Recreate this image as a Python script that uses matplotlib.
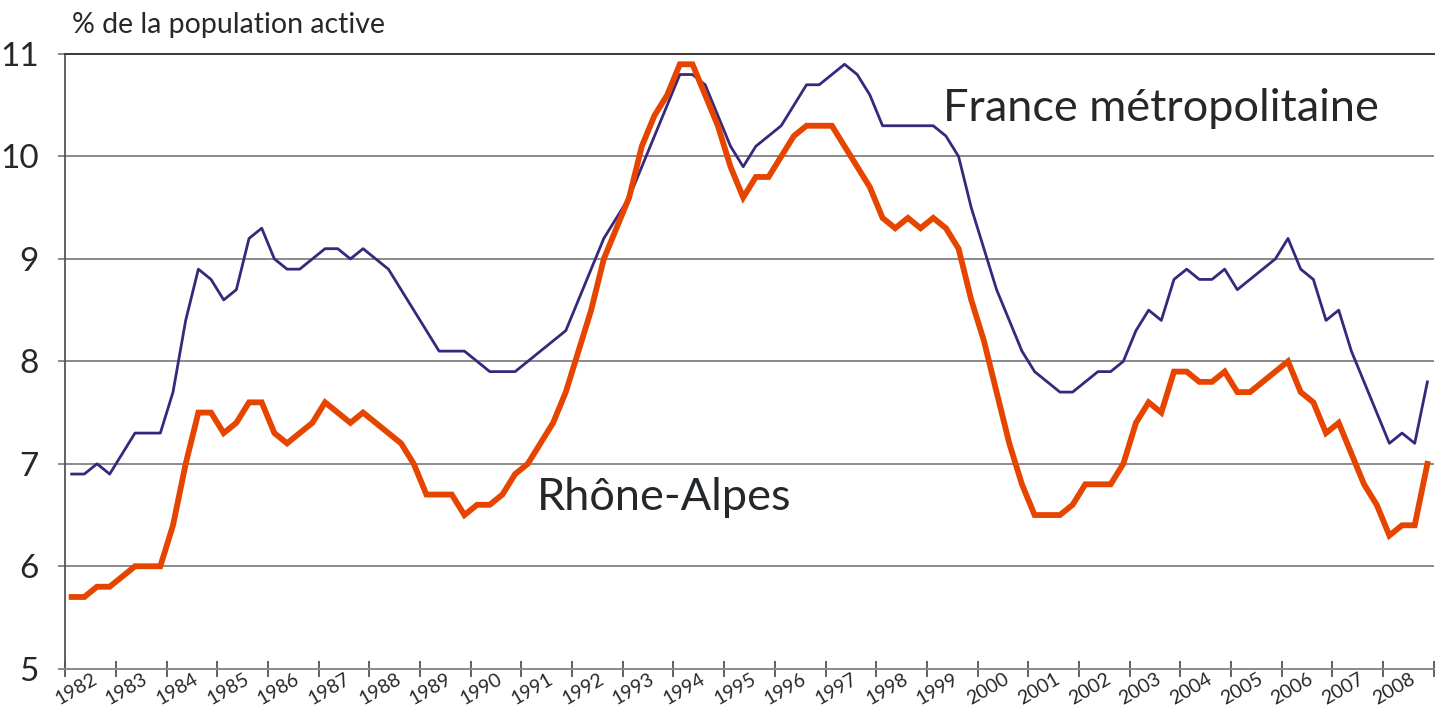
import numpy as np
import matplotlib
matplotlib.use('Agg')
import matplotlib.pyplot as plt

# taux de chomage trimestriel, 1982 T1 -> 2008 T4
years = list(range(1982, 2009))

france = [6.9, 6.9, 7.0, 6.9,  7.1, 7.3, 7.3, 7.3,  7.7, 8.4, 8.9, 8.8,
          8.6, 8.7, 9.2, 9.3,  9.0, 8.9, 8.9, 9.0,  9.1, 9.1, 9.0, 9.1,
          9.0, 8.9, 8.7, 8.5,  8.3, 8.1, 8.1, 8.1,  8.0, 7.9, 7.9, 7.9,
          8.0, 8.1, 8.2, 8.3,  8.6, 8.9, 9.2, 9.4,  9.6, 9.9, 10.2, 10.5,
          10.8, 10.8, 10.7, 10.4,  10.1, 9.9, 10.1, 10.2,  10.3, 10.5, 10.7, 10.7,
          10.8, 10.9, 10.8, 10.6,  10.3, 10.3, 10.3, 10.3,  10.3, 10.2, 10.0, 9.5,
          9.1, 8.7, 8.4, 8.1,  7.9, 7.8, 7.7, 7.7,  7.8, 7.9, 7.9, 8.0,
          8.3, 8.5, 8.4, 8.8,  8.9, 8.8, 8.8, 8.9,  8.7, 8.8, 8.9, 9.0,
          9.2, 8.9, 8.8, 8.4,  8.5, 8.1, 7.8, 7.5,  7.2, 7.3, 7.2, 7.8]

rhone = [5.7, 5.7, 5.8, 5.8,  5.9, 6.0, 6.0, 6.0,  6.4, 7.0, 7.5, 7.5,
         7.3, 7.4, 7.6, 7.6,  7.3, 7.2, 7.3, 7.4,  7.6, 7.5, 7.4, 7.5,
         7.4, 7.3, 7.2, 7.0,  6.7, 6.7, 6.7, 6.5,  6.6, 6.6, 6.7, 6.9,
         7.0, 7.2, 7.4, 7.7,  8.1, 8.5, 9.0, 9.3,  9.6, 10.1, 10.4, 10.6,
         10.9, 10.9, 10.6, 10.3,  9.9, 9.6, 9.8, 9.8,  10.0, 10.2, 10.3, 10.3,
         10.3, 10.1, 9.9, 9.7,  9.4, 9.3, 9.4, 9.3,  9.4, 9.3, 9.1, 8.6,
         8.2, 7.7, 7.2, 6.8,  6.5, 6.5, 6.5, 6.6,  6.8, 6.8, 6.8, 7.0,
         7.4, 7.6, 7.5, 7.9,  7.9, 7.8, 7.8, 7.9,  7.7, 7.7, 7.8, 7.9,
         8.0, 7.7, 7.6, 7.3,  7.4, 7.1, 6.8, 6.6,  6.3, 6.4, 6.4, 7.0]

y_ticks = [5, 6, 7, 8, 9, 10, 11]

plt.rcParams['font.family'] = ['Lato', 'DejaVu Sans']
txt_col = '#25282b'
grid_col = '#8a8a8a'

# points au milieu de chaque trimestre
x = years[0] + (np.arange(len(france)) + 0.5) / 4.0

fig = plt.figure(figsize=(14.45, 7.11), dpi=100)
ax = fig.add_axes([0.0452, 0.0595, 0.947, 0.8645])

ax.plot(x, france, color='#38287c', lw=2.0, zorder=3)
ax.plot(x, rhone, color='#e64500', lw=4.2, zorder=4, solid_joinstyle='miter')

ax.set_xlim(years[0], years[-1] + 1)
ax.set_ylim(y_ticks[0], y_ticks[-1])

# grille horizontale
ax.set_yticks(y_ticks)
ax.set_yticklabels([str(v) for v in y_ticks], fontsize=24, color=txt_col)
ax.yaxis.grid(True, color=grid_col, lw=1.4)
ax.set_axisbelow(True)
ax.tick_params(axis='y', length=5, width=1.4, color=grid_col, pad=14)

# axe x : graduations aux limites d'annees, libelles inclines
ax.set_xticks(years + [years[-1] + 1])
ax.set_xticklabels([])
ax.tick_params(axis='x', direction='inout', length=11, width=1.3, color='#555555')
for yr in years:
    ax.text(yr + 0.65, 4.87, str(yr), rotation=30, rotation_mode='anchor',
            ha='right', va='baseline', fontsize=14, color=txt_col)

ax.spines['right'].set_visible(False)
ax.spines['top'].set_color('#3a3a3a')
ax.spines['top'].set_linewidth(1.4)
ax.spines['left'].set_color('#555555')
ax.spines['left'].set_linewidth(1.3)
ax.spines['bottom'].set_color(grid_col)
ax.spines['bottom'].set_linewidth(1.4)

fig.text(0.0498, 0.953, '% de la population active', fontsize=20.5,
         color=txt_col, ha='left', va='baseline')
ax.text(1999.32, 10.35, 'France métropolitaine', fontsize=32.5,
        color=txt_col, ha='left', va='baseline')
ax.text(1991.31, 6.55, 'Rhône-Alpes', fontsize=32.5,
        color=txt_col, ha='left', va='baseline')

fig.savefig('out.png', dpi=100)
